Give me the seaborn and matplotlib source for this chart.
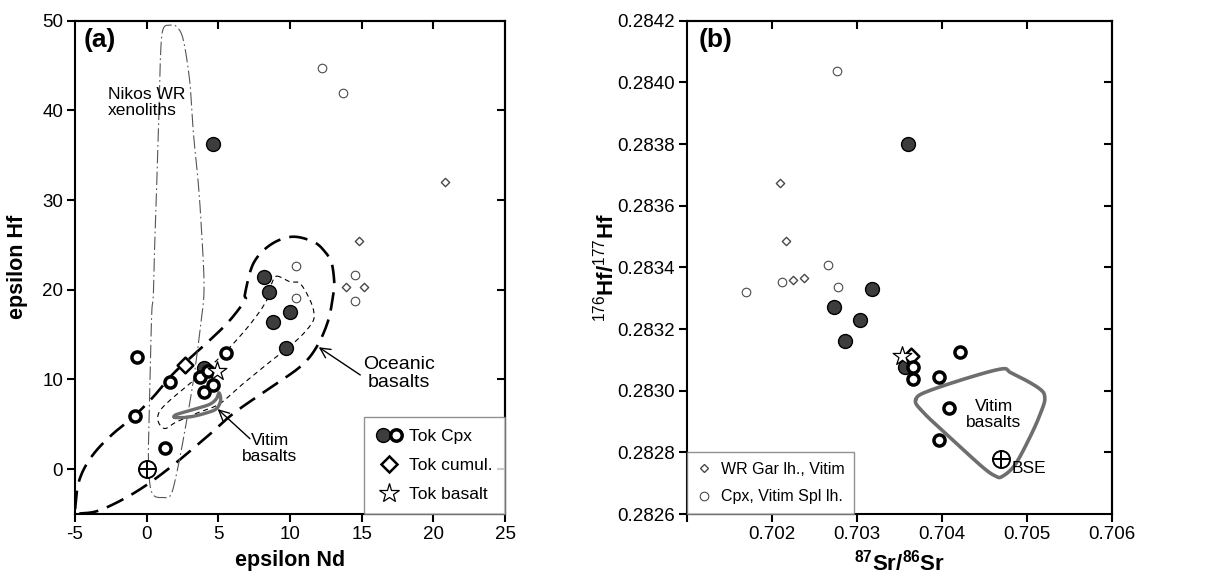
import numpy as np
import pandas as pd
import matplotlib
matplotlib.use("Agg")
import matplotlib.pyplot as plt
from matplotlib.lines import Line2D
from matplotlib.legend_handler import HandlerTuple
import seaborn as sns

# ---------------- data: panel (a) epsilon Nd vs epsilon Hf ----------------
tok_cpx_dark_nd = [4.6, 8.2, 8.5, 10.0, 8.8, 9.7, 4.0]
tok_cpx_dark_hf = [36.2, 21.4, 19.7, 17.5, 16.4, 13.5, 11.3]
tok_cpx_open_nd = [-0.7, 5.5, 1.6, 3.7, 4.3, 4.0, 4.6, -0.8, 1.3]
tok_cpx_open_hf = [12.5, 13.0, 9.7, 10.3, 11.0, 8.6, 9.4, 5.9, 2.4]
spl_cpx_nd = [12.2, 13.7, 10.4, 14.5, 10.4, 14.5]
spl_cpx_hf = [44.7, 41.9, 22.6, 21.6, 19.1, 18.8]
gar_wr_nd = [20.8, 14.8, 13.9, 15.15]
gar_wr_hf = [32.0, 25.4, 20.3, 20.3]
tok_cumul_nd, tok_cumul_hf = [2.7], [11.6]
tok_basalt_nd, tok_basalt_hf = [4.9], [11.0]
bse_nd, bse_hf = [0.0], [0.0]

# field outlines (a)
oceanic_nd = [-4.65, -3.26, -0.93, 1.40, 4.19, 6.05, 8.37, 10.70, 11.86, 12.67, 13.02,
              13.09, 12.91, 12.44, 11.63, 10.12, 8.60, 7.44, 6.86,
              6.86, 5.81, 4.65, 3.49, 1.86, 0.46, -0.93, -2.33, -3.49, -4.30, -4.77, -4.93, -4.98]
oceanic_hf = [-4.94, -4.57, -2.71, -0.11, 3.60, 6.21, 8.81, 11.41, 13.64, 16.61, 19.58,
              20.70, 22.93, 24.23, 25.35, 25.91, 24.98, 22.93, 19.59,
              18.84, 16.61, 14.75, 13.08, 10.66, 8.06, 5.83, 3.98, 2.12, 0.26, -1.60, -3.46, -4.94]
inner_nd = [9.07, 10.0, 10.70, 11.40, 11.67, 11.51, 10.47, 8.60, 6.74, 5.12, 3.72, 2.09,
            1.28, 0.81, 0.88, 1.63, 3.02, 4.65, 6.05, 7.44, 8.37, 8.72]
inner_hf = [21.52, 20.89, 20.70, 18.84, 17.35, 16.24, 14.38, 11.97, 9.55, 7.32, 6.39, 5.28,
            4.53, 5.28, 6.39, 7.69, 9.55, 11.78, 14.01, 16.61, 18.84, 20.70]
nikos_nd = [1.63, 1.16, 0.98, 0.88, 0.74, 0.58, 0.47, 0.35, 0.23, 0.12, 0.19, 0.47, 1.16,
            1.67, 2.09, 2.67, 3.26, 3.72, 4.0, 3.84, 3.60, 3.26, 3.02, 2.56, 2.09]
nikos_hf = [49.5, 49.13, 46.72, 41.14, 33.71, 26.28, 19.59, 17.35, 9.92, 2.49, -1.23, -2.9,
            -3.16, -2.9, -0.48, 4.35, 9.92, 15.5, 19.96, 26.28, 31.85, 37.43, 43.0, 47.83, 49.32]
vitim_a_nd = [1.98, 3.02, 4.19, 4.88, 5.16, 5.05, 4.88, 4.42, 3.49, 2.44, 1.98]
vitim_a_hf = [5.76, 5.83, 6.28, 6.76, 7.69, 8.51, 7.88, 7.25, 6.76, 6.28, 6.02]

# ---------------- data: panel (b) 87Sr/86Sr vs 176Hf/177Hf ----------------
tok_cpx_dark_sr = [0.70360, 0.70318, 0.70273, 0.70303, 0.70286, 0.70356]
tok_cpx_dark_hfr = [0.283800, 0.283329, 0.283273, 0.283230, 0.283160, 0.283078]
tok_cpx_open_sr = [0.70366, 0.70366, 0.70396, 0.70421, 0.70408, 0.70397]
tok_cpx_open_hfr = [0.283078, 0.283038, 0.283046, 0.283127, 0.282944, 0.282839]
spl_cpx_sr = [0.70276, 0.70266, 0.70212, 0.70278, 0.70170]
spl_cpx_hfr = [0.284038, 0.283408, 0.283351, 0.283336, 0.283321]
gar_wr_sr = [0.70210, 0.70216, 0.70225, 0.70238]
gar_wr_hfr = [0.283675, 0.283484, 0.283359, 0.283365]
tok_cumul_sr, tok_cumul_hfr = [0.70364], [0.283113]
tok_basalt_sr, tok_basalt_hfr = [0.70353], [0.283111]
bse_sr, bse_hfr = [0.70470], [0.282778]

vitim_b_sr = [0.70369, 0.70388, 0.70465, 0.70482, 0.70514, 0.70521, 0.70516, 0.70504,
              0.70486, 0.70471, 0.70463, 0.70447, 0.70408, 0.70379]
vitim_b_hfr = [0.282970, 0.283003, 0.283068, 0.283057, 0.283008, 0.282976, 0.282927,
               0.282852, 0.282760, 0.282722, 0.282723, 0.282754, 0.282852, 0.282927]

# ---------------- style ----------------
sns.set_theme(style="ticks")
plt.rcParams["font.family"] = ["Liberation Sans", "DejaVu Sans"]
plt.rcParams["axes.unicode_minus"] = False
plt.rcParams["mathtext.fontset"] = "custom"
plt.rcParams["mathtext.rm"] = "Liberation Sans"
plt.rcParams["mathtext.bf"] = "Liberation Sans:bold"
plt.rcParams["mathtext.it"] = "Liberation Sans:italic"
for key in ("text.color", "axes.labelcolor", "xtick.color", "ytick.color",
            "xtick.labelcolor", "ytick.labelcolor", "axes.edgecolor"):
    plt.rcParams[key] = "black"

DARK = "#3d3d3d"
THIN = "#4a4a4a"
FIELD_GRAY = "#6e6e6e"
TICK_FS = 13.5


def smooth_closed(xs, ys, n=24):
    """Closed Catmull-Rom curve through the outline vertices."""
    P = np.column_stack([xs, ys]).astype(float)
    N = len(P)
    t = np.linspace(0, 1, n, endpoint=False)[:, None]
    segs = []
    for i in range(N):
        p0, p1, p2, p3 = P[i - 1], P[i], P[(i + 1) % N], P[(i + 2) % N]
        segs.append(0.5 * (2 * p1 + (-p0 + p2) * t
                           + (2 * p0 - 5 * p1 + 4 * p2 - p3) * t ** 2
                           + (-p0 + 3 * p1 - 3 * p2 + p3) * t ** 3))
    C = np.vstack(segs + [segs[0][:1]])
    return C[:, 0], C[:, 1]


def scatter(ax, x, y, **kw):
    sns.scatterplot(x=x, y=y, ax=ax, legend=False, **kw)


def dark_pts(ax, x, y):
    scatter(ax, x, y, marker="o", s=100, color=DARK, edgecolor="black", linewidth=1.0, zorder=5)


def open_pts(ax, x, y):
    scatter(ax, x, y, marker="o", s=64, facecolor="white", edgecolor="black", linewidth=2.5, zorder=6)


def style_axes(ax, xticks, yticks, top_ticks, right_ticks):
    for sp in ax.spines.values():
        sp.set_linewidth(1.5)
        sp.set_color("black")
        sp.set_visible(True)
    ax.set_xticks(xticks)
    ax.set_yticks(yticks)
    ax.tick_params(direction="out", length=5.5, width=1.5, labelsize=TICK_FS,
                   color="black", labelcolor="black", pad=3)
    top = ax.secondary_xaxis("top")
    top.set_xticks(top_ticks)
    top.set_xticklabels([])
    top.tick_params(direction="in", length=6, width=1.5, color="black")
    top.spines["top"].set_linewidth(1.5)
    right = ax.secondary_yaxis("right")
    right.set_yticks(right_ticks)
    right.set_yticklabels([])
    right.tick_params(direction="in", length=6, width=1.5, color="black")
    right.spines["right"].set_linewidth(1.5)


ARROW = dict(arrowstyle="->,head_length=0.6,head_width=0.3", lw=1.0, color="black",
             shrinkA=0, shrinkB=0)

fig = plt.figure(figsize=(12.08, 5.78), dpi=100)
axa = fig.add_axes([0.0621, 0.1107, 0.356, 0.8535])
axb = fig.add_axes([0.5687, 0.1107, 0.3518, 0.8535])

# ================= panel (a) =================
axa.set_xlim(-5, 25)
axa.set_ylim(-5, 50)

x, y = smooth_closed(oceanic_nd, oceanic_hf)
axa.plot(x, y, color="black", lw=1.9, ls=(0, (7, 3.5)), zorder=1)
x, y = smooth_closed(inner_nd, inner_hf)
axa.plot(x, y, color="black", lw=0.8, ls=(0, (4.5, 3.5)), zorder=1)
x, y = smooth_closed(nikos_nd, nikos_hf)
axa.plot(x, y, color="#555555", lw=0.8, ls=(0, (12, 3, 1.5, 3)), zorder=1)
x, y = smooth_closed(vitim_a_nd, vitim_a_hf, n=12)
axa.plot(x, y, color=FIELD_GRAY, lw=2.4, zorder=2, solid_capstyle="round", solid_joinstyle="round")

scatter(axa, spl_cpx_nd, spl_cpx_hf, marker="o", s=38, facecolor="white", edgecolor=THIN, linewidth=0.8, zorder=3)
scatter(axa, gar_wr_nd, gar_wr_hf, marker="D", s=18, facecolor="white", edgecolor=THIN, linewidth=1.0, zorder=3)
dark_pts(axa, tok_cpx_dark_nd, tok_cpx_dark_hf)
scatter(axa, tok_cumul_nd, tok_cumul_hf, marker="D", s=64, facecolor="white", edgecolor="black", linewidth=1.8, zorder=6)
open_pts(axa, tok_cpx_open_nd, tok_cpx_open_hf)
scatter(axa, tok_basalt_nd, tok_basalt_hf, marker="*", s=200, facecolor="white", edgecolor="black", linewidth=0.9, zorder=7)
scatter(axa, bse_nd, bse_hf, marker="o", s=150, facecolor="white", edgecolor="black", linewidth=1.4, zorder=7)
scatter(axa, bse_nd, bse_hf, marker="+", s=150, color="black", linewidth=1.4, zorder=8)

style_axes(axa, [-5, 0, 5, 10, 15, 20, 25], [0, 10, 20, 30, 40, 50],
           [0, 5, 10, 15, 20], [0, 10, 20, 30, 40])
axa.set_xticklabels(["-5", "0", "5", "10", "15", "20", "25"])
axa.set_xlabel("epsilon Nd", fontsize=15.5, fontweight="bold")
axa.set_ylabel("epsilon Hf", fontsize=15.5, fontweight="bold")
axa.xaxis.set_label_coords(0.5, -0.072)
axa.yaxis.set_label_coords(-0.11, 0.5)

axa.text(0.019, 0.985, "(a)", transform=axa.transAxes, ha="left", va="top",
         fontsize=19, fontweight="bold")
axa.text(-2.7, 42.6, "Nikos WR\nxenoliths", ha="left", va="top", fontsize=12.5, linespacing=1.05)
axa.text(17.6, 10.7, "Oceanic\nbasalts", ha="center", va="center", fontsize=14, linespacing=1.05)
axa.text(8.6, 2.3, "Vitim\nbasalts", ha="center", va="center", fontsize=12.5, linespacing=1.05)
axa.annotate("", xy=(12.0, 13.6), xytext=(14.9, 10.5), arrowprops=ARROW)
axa.annotate("", xy=(4.95, 6.7), xytext=(7.2, 3.4), arrowprops=ARROW)

h_dark = Line2D([], [], ls="none", marker="o", ms=10, mfc=DARK, mec="black", mew=1.0)
h_open = Line2D([], [], ls="none", marker="o", ms=8.2, mfc="white", mec="black", mew=2.5)
h_cum = Line2D([], [], ls="none", marker="D", ms=8.5, mfc="white", mec="black", mew=1.8)
h_star = Line2D([], [], ls="none", marker="*", ms=15, mfc="white", mec="black", mew=0.9)
lga = axa.legend([(h_dark, h_open), h_cum, h_star], ["Tok Cpx", "Tok cumul.", "Tok basalt"],
                 handler_map={tuple: HandlerTuple(ndivide=None, pad=0.05)},
                 loc="lower right", bbox_to_anchor=(1.0, 0.0), borderaxespad=0,
                 fontsize=12.5, frameon=True, fancybox=False, handlelength=1.5,
                 handletextpad=0.4, labelspacing=0.78, borderpad=0.7)
lga.get_frame().set_edgecolor("#777777")
lga.get_frame().set_linewidth(1.0)
lga.set_zorder(10)

# ================= panel (b) =================
axb.set_xlim(0.701, 0.706)
axb.set_ylim(0.2826, 0.2842)

x, y = smooth_closed(vitim_b_sr, vitim_b_hfr, n=16)
axb.plot(x, y, color=FIELD_GRAY, lw=2.6, zorder=2)

scatter(axb, spl_cpx_sr, spl_cpx_hfr, marker="o", s=38, facecolor="white", edgecolor=THIN, linewidth=0.8, zorder=3)
scatter(axb, gar_wr_sr, gar_wr_hfr, marker="D", s=18, facecolor="white", edgecolor=THIN, linewidth=1.0, zorder=3)
dark_pts(axb, tok_cpx_dark_sr, tok_cpx_dark_hfr)
scatter(axb, tok_cumul_sr, tok_cumul_hfr, marker="D", s=64, facecolor="white", edgecolor="black", linewidth=1.8, zorder=5)
open_pts(axb, tok_cpx_open_sr, tok_cpx_open_hfr)
scatter(axb, tok_basalt_sr, tok_basalt_hfr, marker="*", s=200, facecolor="white", edgecolor="black", linewidth=0.9, zorder=7)
scatter(axb, bse_sr, bse_hfr, marker="o", s=150, facecolor="white", edgecolor="black", linewidth=1.4, zorder=7)
scatter(axb, bse_sr, bse_hfr, marker="+", s=150, color="black", linewidth=1.4, zorder=8)

sr_ticks = [0.701, 0.702, 0.703, 0.704, 0.705, 0.706]
hf_ticks = [0.2826, 0.2828, 0.2830, 0.2832, 0.2834, 0.2836, 0.2838, 0.2840, 0.2842]
style_axes(axb, sr_ticks, hf_ticks, [0.702, 0.703, 0.704, 0.705], hf_ticks[1:-1])
axb.set_xticklabels(["", "0.702", "0.703", "0.704", "0.705", "0.706"])
axb.set_yticklabels([f"{v:.4f}" for v in hf_ticks])
axb.set_xlabel(r"$\mathbf{{}^{87}Sr/{}^{86}Sr}$", fontsize=16)
axb.set_ylabel(r"$^{176}$Hf/$^{177}$Hf", fontsize=16, fontweight="bold")
axb.xaxis.set_label_coords(0.5, -0.072)
axb.yaxis.set_label_coords(-0.162, 0.5)

axb.text(0.028, 0.985, "(b)", transform=axb.transAxes, ha="left", va="top",
         fontsize=19, fontweight="bold")
axb.text(0.70461, 0.282922, "Vitim\nbasalts", ha="center", va="center", fontsize=12.5, linespacing=1.05)
axb.text(0.70482, 0.282747, "BSE", ha="left", va="center", fontsize=12.5)

h_gar = Line2D([], [], ls="none", marker="D", ms=4.2, mfc="white", mec=THIN, mew=1.0)
h_spl = Line2D([], [], ls="none", marker="o", ms=6.2, mfc="white", mec=THIN, mew=0.8)
lgb = axb.legend([h_gar, h_spl], ["WR Gar lh., Vitim", "Cpx, Vitim Spl lh."],
                 loc="lower left", bbox_to_anchor=(0.0, 0.0), borderaxespad=0,
                 fontsize=11.5, frameon=True, fancybox=False, handlelength=0.9,
                 handletextpad=0.6, labelspacing=0.8, borderpad=0.6)
lgb.get_frame().set_edgecolor("#777777")
lgb.get_frame().set_linewidth(1.0)
lgb.set_zorder(10)

fig.savefig("out.png", dpi=100, facecolor="white")
